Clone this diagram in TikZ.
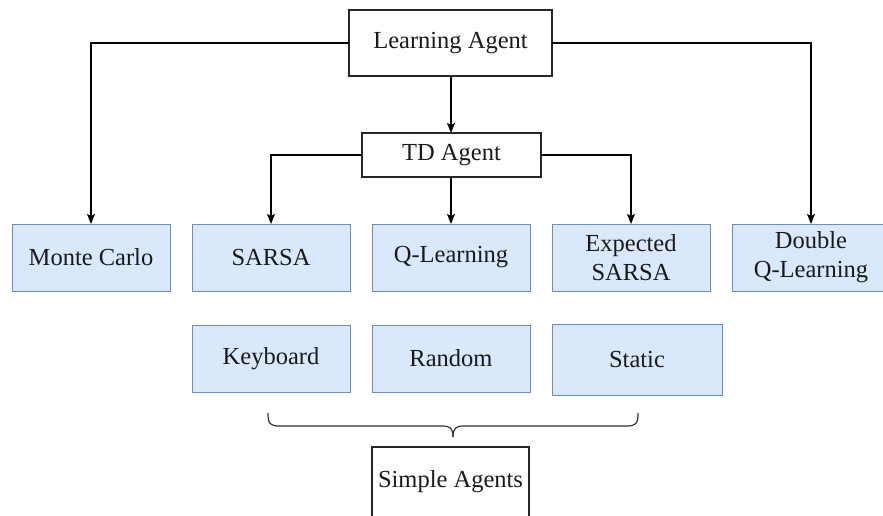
\documentclass[tikz,border=0pt]{standalone}
\usepackage{fontspec}
\setmainfont{Liberation Serif}
\usetikzlibrary{arrows.meta}
\definecolor{bfill}{HTML}{DAE8FC}
\definecolor{bdraw}{HTML}{6C8EBF}
\definecolor{txt}{HTML}{1A1A1A}
\tikzset{
  base/.style={inner sep=0pt, outer sep=0pt, align=center, text=txt,
    font=\fontsize{24.5}{29}\selectfont},
  plainbox/.style={base, draw=black!85, line width=1.3pt, fill=white},
  bluebox/.style={base, draw=bdraw, line width=1pt, fill=bfill,
    minimum width=158pt, minimum height=67pt},
  arr/.style={draw=black, line width=1.2pt, -{Stealth[length=10pt,width=8pt,inset=2pt]}},
  bracestyle/.style={draw=black!80, line width=1.2pt}
}
\begin{document}
\begin{tikzpicture}[x=1pt,y=-1pt]
\clip (0,0) rectangle (883,515);
\fill[white] (0,0) rectangle (883,515);
\node[plainbox, minimum width=203pt, minimum height=66pt] (LA) at (450.5,43) {Learning Agent};
\node[plainbox, minimum width=179pt, minimum height=44pt] (TD) at (451.5,155) {TD Agent};
\node[bluebox] (MC) at (91,257.5) {Monte Carlo};
\node[bluebox] (SA) at (271,257.5) {SARSA};
\node[bluebox] (QL) at (451,257.5) {Q-Learning};
\node[bluebox] (ES) at (631,257.5) {Expected\\SARSA};
\node[bluebox] (DQ) at (811,257.5) {Double\\Q-Learning};
\node[bluebox] (KB) at (271,358.5) {Keyboard};
\node[bluebox] (RD) at (451,358.5) {Random};
\node[bluebox, minimum width=170pt, minimum height=71pt] (ST) at (637,359.5) {Static};
\node[plainbox, line width=1.2pt, minimum width=157pt, minimum height=70pt] (SG) at (450.5,482) {Simple Agents};
\coordinate (BL) at (268,413);
\coordinate (BR) at (638,413);
\coordinate (BT) at (453,437);
\draw[arr] (LA.west) -| (MC.north);
\draw[arr] (LA.east) -| (DQ.north);
\draw[arr] (LA.south -| 451,0) -- (TD.north -| 451,0);
\draw[arr] (TD.west) -| (SA.north);
\draw[arr] (TD.south -| QL.north) -- (QL.north);
\draw[arr] (TD.east) -| (ES.north);
\draw[bracestyle] (BL) .. controls (268,424) and (270,426) .. (280,426) -- (442,426)
  .. controls (450,426) and (453,428) .. (BT);
\draw[bracestyle] (BR) .. controls (638,424) and (636,426) .. (626,426) -- (464,426)
  .. controls (456,426) and (453,428) .. (BT);
\end{tikzpicture}
\end{document}
